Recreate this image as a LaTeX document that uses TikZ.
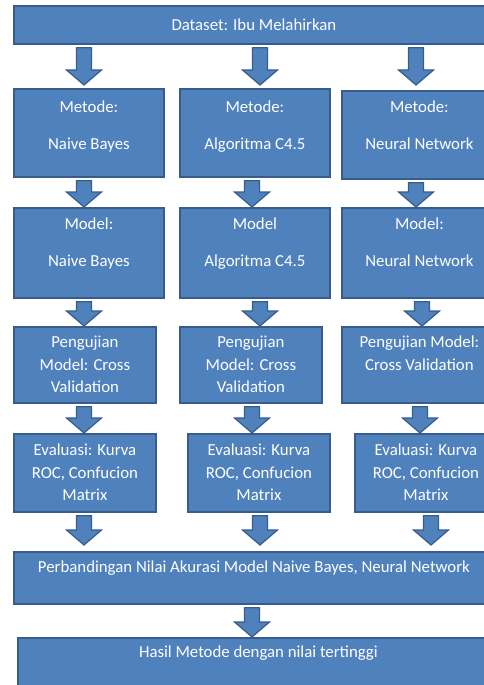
\documentclass[tikz,border=0pt]{standalone}
\usepackage{fontspec}
\setmainfont{Carlito}
\usetikzlibrary{positioning,calc}
\definecolor{blokisi}{HTML}{4F81BD}
\definecolor{bloktepi}{HTML}{385D8A}
\tikzset{
  blok/.style={draw=bloktepi, fill=blokisi, line width=1.8pt, anchor=north west, inner sep=0pt},
  tulis/.style={text=white, align=center, inner sep=0pt, anchor=north, font=\fontsize{16.8}{22.5}\selectfont},
  panah/.style={draw=bloktepi, fill=blokisi, line width=1.2pt, line join=miter}
}
\begin{document}
\begin{tikzpicture}[x=1pt, y=-1pt]
	\useasboundingbox (0,0) rectangle (484,685);
	% kotak
	\node[blok, minimum width=480pt, minimum height=38pt, text=white, font=\fontsize{16.8}{22.5}\selectfont] (data) at (13,5) {Dataset: Ibu Melahirkan};
	\foreach \n/\x/\y/\w/\h in {m1/13/88/150/88, m2/179/88/150/88, m3/341/90/155/88,
		d1/13/207/150/90, d2/179/207/150/90, d3/341/207/155/90,
		u1/13/326/142/76, u2/179/326/142/76, u3/341/326/155/76,
		e1/13/433/142/78, e2/187/433/142/78, e3/354/433/142/78,
		band/13/551/480/52, hasil/17/637/481/60}
	\node[blok, minimum width=\w pt, minimum height=\h pt] (\n) at (\x,\y) {};
	% teks
	\foreach \n/\d/\t in {m1/9/{Metode:\\[14.5pt]Naive Bayes}, m2/9/{Metode:\\[14.5pt]Algoritma C4.5}, m3/7/{Metode:\\[14.5pt]Neural Network},
		d1/7/{Model:\\[14.5pt]Naive Bayes}, d2/7/{Model\\[14.5pt]Algoritma C4.5}, d3/7/{Model:\\[14.5pt]Neural Network},
		u1/6/{Pengujian\\Model: Cross\\Validation}, u2/6/{Pengujian\\Model: Cross\\Validation}, u3/6/{Pengujian Model:\\Cross Validation},
		e1/7/{Evaluasi: Kurva\\ROC, Confucion\\Matrix}, e2/7/{Evaluasi: Kurva\\ROC, Confucion\\Matrix}, e3/7/{Evaluasi: Kurva\\ROC, Confucion\\Matrix},
		band/6/{Perbandingan Nilai Akurasi Model Naive Bayes, Neural Network}, hasil/5/{Hasil Metode dengan nilai tertinggi}}
	\node[tulis, below=\d pt of \n.north] (\n-t) {\strut\t};
	% panah
	\foreach \a/\b/\px/\g in {data/m1/84/3, data/m2/260/3, data/m3/416/5,
		m1/d1/84/0, m2/d2/252/0, m3/d3/416/0,
		d1/u1/84/0, d2/u2/260/0, d3/u3/422/0,
		u1/e1/84/0, u2/e2/252/0, u3/e3/420/0,
		e1/band/84/6, e2/band/260/6, e3/band/431/6,
		band/hasil/252/0}
	\filldraw[panah] let \p1=(\a.south), \p2=(\b.north) in
	({\px pt-7.5pt},{\y1-3pt}) -- ({\px pt+7.5pt},{\y1-3pt}) -- ({\px pt+7.5pt},{\y2+\g pt+15pt})
	-- ({\px pt+17.5pt},{\y2+\g pt+15pt}) -- ({\px pt},{\y2+\g pt}) -- ({\px pt-17.5pt},{\y2+\g pt+15pt})
	-- ({\px pt-7.5pt},{\y2+\g pt+15pt}) -- cycle;
\end{tikzpicture}
\end{document}
